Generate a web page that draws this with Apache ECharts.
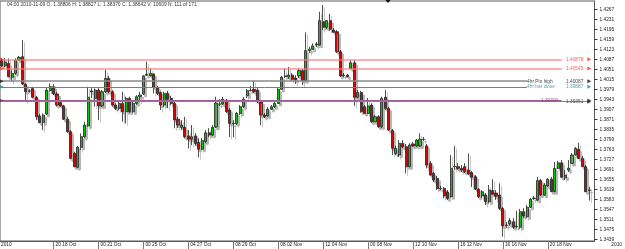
<!DOCTYPE html>
<html><head><meta charset="utf-8">
<script src="https://cdn.jsdelivr.net/npm/echarts@6/dist/echarts.min.js"></script>
<style>html,body{margin:0;padding:0;background:#fff}#c{width:625px;height:249px}</style>
</head><body><div id="c"></div>
<script>
const opens=[1.4085,1.4064,1.4073,1.4023,1.4037,1.4085,1.4097,1.3998,1.3974,1.3983,1.3951,1.3884,1.3860,1.3891,1.3975,1.3989,1.3963,1.3932,1.3920,1.3872,1.3827,1.3749,1.3699,1.3771,1.3809,1.3848,1.3970,1.3947,1.3977,1.3920,1.3971,1.4019,1.3971,1.3923,1.3911,1.3929,1.3899,1.3947,1.3899,1.3929,1.3953,1.3963,1.4030,1.4028,1.4035,1.3987,1.3968,1.3923,1.3965,1.3947,1.3929,1.3872,1.3843,1.3843,1.3812,1.3800,1.3812,1.3788,1.3764,1.3791,1.3823,1.3815,1.3844,1.3927,1.3927,1.3941,1.3905,1.3857,1.3857,1.3893,1.3917,1.3956,1.3975,1.3979,1.3977,1.3935,1.3887,1.3884,1.3908,1.3917,1.3929,1.3980,1.4026,1.4024,1.4031,1.4020,1.4028,1.4047,1.4011,1.4119,1.4124,1.4139,1.4139,1.4223,1.4203,1.4227,1.4193,1.4187,1.4115,1.4031,1.4031,1.4055,1.4075,1.3951,1.3968,1.3917,1.3893,1.3923,1.3863,1.3881,1.3845,1.3951,1.3911,1.3831,1.3749,1.3743,1.3785,1.3773,1.3701,1.3783,1.3776,1.3776,1.3800,1.3776,1.3713,1.3677,1.3659,1.3623,1.3623,1.3610,1.3593,1.3701,1.3701,1.3695,1.3701,1.3689,1.3680,1.3665,1.3620,1.3596,1.3599,1.3575,1.3615,1.3606,1.3599,1.3551,1.3491,1.3495,1.3503,1.3485,1.3483,1.3539,1.3521,1.3555,1.3587,1.3581,1.3651,1.3599,1.3632,1.3656,1.3611,1.3695,1.3715,1.3661,1.3689,1.3713,1.3743,1.3764,1.3731,1.3701,1.3616];
const closes=[1.4064,1.4078,1.4025,1.4037,1.4085,1.4095,1.3999,1.3971,1.3973,1.3951,1.3881,1.3860,1.3887,1.3977,1.3989,1.3963,1.3923,1.3920,1.3872,1.3827,1.3731,1.3701,1.3771,1.3809,1.3851,1.3951,1.3974,1.3977,1.3920,1.3971,1.4019,1.3971,1.3923,1.3911,1.3929,1.3899,1.3947,1.3899,1.3929,1.3953,1.3959,1.4028,1.4034,1.4037,1.3987,1.3965,1.3923,1.3965,1.3944,1.3929,1.3869,1.3851,1.3851,1.3809,1.3800,1.3809,1.3785,1.3764,1.3795,1.3823,1.3815,1.3843,1.3930,1.3926,1.3944,1.3899,1.3857,1.3856,1.3893,1.3917,1.3944,1.3975,1.3977,1.3972,1.3935,1.3887,1.3881,1.3908,1.3917,1.3929,1.3980,1.4023,1.4028,1.4031,1.4016,1.4013,1.4047,1.4011,1.4119,1.4124,1.4136,1.4143,1.4227,1.4203,1.4227,1.4196,1.4185,1.4115,1.4028,1.4030,1.4025,1.4075,1.3951,1.3968,1.3899,1.3893,1.3920,1.3863,1.3881,1.3845,1.3947,1.3911,1.3833,1.3767,1.3767,1.3785,1.3773,1.3701,1.3779,1.3776,1.3797,1.3800,1.3799,1.3707,1.3671,1.3653,1.3623,1.3622,1.3596,1.3587,1.3695,1.3703,1.3695,1.3689,1.3683,1.3675,1.3663,1.3620,1.3593,1.3611,1.3575,1.3617,1.3602,1.3595,1.3551,1.3488,1.3490,1.3507,1.3483,1.3486,1.3539,1.3524,1.3555,1.3584,1.3588,1.3651,1.3599,1.3635,1.3656,1.3611,1.3695,1.3715,1.3663,1.3671,1.3696,1.3743,1.3767,1.3731,1.3701,1.3611,1.3617];
const lows=[1.4060,1.4060,1.4023,1.4007,1.4031,1.4083,1.3995,1.3935,1.3968,1.3947,1.3869,1.3857,1.3833,1.3887,1.3971,1.3959,1.3917,1.3917,1.3869,1.3823,1.3728,1.3699,1.3696,1.3761,1.3803,1.3844,1.3948,1.3917,1.3869,1.3916,1.3966,1.3966,1.3917,1.3905,1.3905,1.3863,1.3857,1.3895,1.3895,1.3923,1.3935,1.3959,1.4028,1.4025,1.3965,1.3959,1.3905,1.3916,1.3912,1.3923,1.3839,1.3840,1.3833,1.3803,1.3767,1.3779,1.3776,1.3735,1.3761,1.3786,1.3808,1.3812,1.3840,1.3920,1.3923,1.3895,1.3808,1.3807,1.3851,1.3887,1.3912,1.3948,1.3972,1.3966,1.3930,1.3851,1.3876,1.3880,1.3905,1.3912,1.3927,1.3977,1.4020,1.4017,1.4010,1.3999,1.4020,1.3995,1.4008,1.4110,1.4121,1.4132,1.4136,1.4193,1.4197,1.4190,1.4182,1.4110,1.4024,1.4024,1.4022,1.4053,1.3920,1.3948,1.3895,1.3891,1.3891,1.3858,1.3862,1.3840,1.3840,1.3905,1.3830,1.3743,1.3743,1.3736,1.3768,1.3677,1.3700,1.3772,1.3772,1.3772,1.3794,1.3695,1.3668,1.3646,1.3617,1.3617,1.3588,1.3581,1.3590,1.3689,1.3689,1.3682,1.3678,1.3671,1.3628,1.3617,1.3588,1.3588,1.3563,1.3570,1.3600,1.3581,1.3545,1.3449,1.3480,1.3488,1.3477,1.3480,1.3477,1.3517,1.3517,1.3552,1.3581,1.3578,1.3596,1.3596,1.3628,1.3610,1.3610,1.3693,1.3660,1.3653,1.3682,1.3711,1.3740,1.3729,1.3700,1.3610,1.3579];
const highs=[1.4092,1.4092,1.4091,1.4047,1.4091,1.4100,1.4157,1.4002,1.3980,1.3989,1.3956,1.3891,1.3893,1.3984,1.4001,1.3999,1.3971,1.3935,1.3923,1.3881,1.3833,1.3755,1.3776,1.3821,1.3863,1.3989,1.3984,1.3983,1.3984,1.3977,1.4049,1.4028,1.3977,1.3929,1.3935,1.3971,1.3953,1.3953,1.3934,1.3959,1.3971,1.4031,1.4079,1.4055,1.4037,1.3992,1.3971,1.3971,1.3974,1.3956,1.3937,1.3880,1.3869,1.3881,1.3833,1.3851,1.3822,1.3803,1.3804,1.3833,1.3840,1.3851,1.3953,1.3945,1.3952,1.3945,1.3912,1.3869,1.3898,1.3923,1.3952,1.3981,1.3992,1.4011,1.3984,1.3941,1.3894,1.3916,1.3923,1.3934,1.3984,1.4028,1.4055,1.4060,1.4038,1.4031,1.4056,1.4053,1.4185,1.4133,1.4145,1.4150,1.4259,1.4283,1.4229,1.4251,1.4200,1.4193,1.4121,1.4038,1.4035,1.4085,1.4085,1.3977,1.3974,1.3923,1.3948,1.3930,1.3887,1.3887,1.3953,1.3977,1.3916,1.3837,1.3776,1.3797,1.3797,1.3783,1.3786,1.3790,1.3801,1.3821,1.3808,1.3783,1.3722,1.3682,1.3668,1.3632,1.3628,1.3617,1.3743,1.3776,1.3714,1.3707,1.3714,1.3749,1.3686,1.3671,1.3624,1.3617,1.3606,1.3635,1.3656,1.3617,1.3641,1.3556,1.3502,1.3516,1.3516,1.3542,1.3549,1.3552,1.3563,1.3588,1.3596,1.3664,1.3657,1.3642,1.3660,1.3664,1.3718,1.3722,1.3725,1.3689,1.3725,1.3750,1.3772,1.3787,1.3740,1.3707,1.3629];

const xTickBars=[15,28,41,54,67,80,93,106,119,132,145,158];
const xTickText=['20 18 Oct','00 21 Oct','00 25 Oct','04 27 Oct','08 29 Oct','08 02 Nov','12 04 Nov','00 08 Nov','12 10 Nov','16 12 Nov','16 16 Nov','20 18 Nov'];
const yTickValues=[1.4267,1.4231,1.4195,1.4159,1.4123,1.4087,1.4051,1.4015,1.3979,1.3943,1.3907,1.3871,1.3835,1.3799,1.3763,1.3727,1.3691,1.3655,1.3619,1.3583,1.3547,1.3511,1.3475,1.3439];
const levelValues=[1.40878,1.40545,1.40087,1.39887,1.39393,1.39351];
const levelNames=['','','4hr Pin high','4hr bar close','1.39393',''];
const headerText='04:00 2010-11-09 O: 1.38806 H: 1.38827 L: 1.38370 C: 1.38642 V: 10609 N: 111 of 171';

const nBars=opens.length;
const categories=[];
for(let i=0;i<=nBars;i++){const k=xTickBars.indexOf(i);categories.push(k>=0?xTickText[k]:'');}
const candles=opens.map((o,i)=>[o,closes[i],lows[i],highs[i]]);

const levelStyle=[
  {color:'rgba(255,120,120,0.6)',width:2,end:161.5,tag:'#ff3030'},
  {color:'rgba(255,120,120,0.6)',width:2,end:161.5,tag:'#ff3030'},
  {color:'#8a8a8a',width:1.5,end:151.5,tag:'#111'},
  {color:'#3a9a9a',width:1,end:151.5,tag:'#2a8a8a'},
  {color:'#a0609a',width:2,end:162,tag:'#8a3a7a'},
  {color:'#5aa05a',width:1,end:170,tag:'#222'}
];
const FONT='Liberation Sans';
const lineData=levelValues.map((v,i)=>[{coord:[0,v],lineStyle:{color:levelStyle[i].color,width:levelStyle[i].width,type:'solid'}},{coord:[levelStyle[i].end,v]}]);
const rightTags=levelValues.map((v,i)=>({value:[170,v],itemStyle:{color:i===4?'#222':levelStyle[i].tag},
  label:{show:i!==4,formatter:v.toFixed(5),color:levelStyle[i].tag}}));
const leftTags=levelValues.filter((v,i)=>i!==5).map((v,i)=>({value:[0,v],itemStyle:{color:i===4?'#5a2a4a':levelStyle[i].tag}}));
const nameTags=[
  {value:[151.9,levelValues[2]],label:{formatter:levelNames[2],color:'#111'}},
  {value:[151.9,levelValues[3]],label:{formatter:levelNames[3],color:'#2a8a8a'}},
  {value:[155.6,levelValues[4]],label:{formatter:levelNames[4],color:'#8a3a7a'}}
];

const chart=echarts.init(document.getElementById('c'),null,{renderer:'canvas'});
chart.setOption({
  animation:false,
  backgroundColor:'#fff',
  grid:{left:0,right:30.5,top:1,bottom:8,show:true,borderColor:'#5a5a5a',borderWidth:1},
  xAxis:{type:'category',data:categories,boundaryGap:true,
    axisLine:{show:true,lineStyle:{color:'#5a5a5a'}},
    axisTick:{show:true,alignWithLabel:true,interval:(i,v)=>v!=='',length:8,lineStyle:{color:'#777'}},
    axisLabel:{show:true,interval:(i,v)=>v!=='',align:'left',margin:1.5,padding:[0,0,0,2],fontSize:4.8,fontFamily:FONT,color:'#222'},
    splitLine:{show:false}},
  yAxis:{type:'value',position:'right',min:1.34336,max:1.42976,scale:true,
    axisLine:{show:true,lineStyle:{color:'#5a5a5a'}},
    axisTick:{show:true,length:3,customValues:yTickValues,lineStyle:{color:'#333'}},
    axisLabel:{show:true,customValues:yTickValues,formatter:v=>v.toFixed(4),margin:5,fontSize:4.8,fontFamily:FONT,color:'#222'},
    splitLine:{show:false}},
  graphic:[
    {type:'text',left:7,top:2,style:{text:headerText,fontSize:4.9,fontFamily:FONT,fill:'#333'}},
    {type:'text',left:1,top:242.5,style:{text:'2010',fontSize:4.8,fontFamily:FONT,fill:'#222'}},
    {type:'text',right:3,top:242.5,style:{text:'2010',fontSize:4.8,fontFamily:FONT,fill:'#222'}},
    {type:'polygon',shape:{points:[[385.5,0],[390.5,0],[388,3]]},style:{fill:'#111'}}
  ],
  series:[
    {type:'candlestick',data:candles,barWidth:2.6,
      itemStyle:{color:'#10c010',color0:'#cc0808',borderColor:'#222',borderColor0:'#222',borderWidth:0.8,
        shadowColor:'rgba(160,160,160,0.75)',shadowBlur:0,shadowOffsetX:2,shadowOffsetY:2.5},
      markLine:{silent:true,symbol:['none','none'],label:{show:false},data:lineData,animation:false},
      z:3},
    {type:'scatter',data:rightTags,symbol:'triangle',symbolRotate:-90,symbolSize:[4,4],
      label:{show:true,position:'left',distance:4,fontSize:4.8,fontFamily:FONT},z:5},
    {type:'scatter',data:leftTags,symbol:'triangle',symbolRotate:-90,symbolSize:[4,4],z:5},
    {type:'scatter',data:nameTags,symbolSize:0,
      label:{show:true,position:'right',distance:0,fontSize:4.8,fontFamily:FONT},z:5}
  ]
});
</script></body></html>
